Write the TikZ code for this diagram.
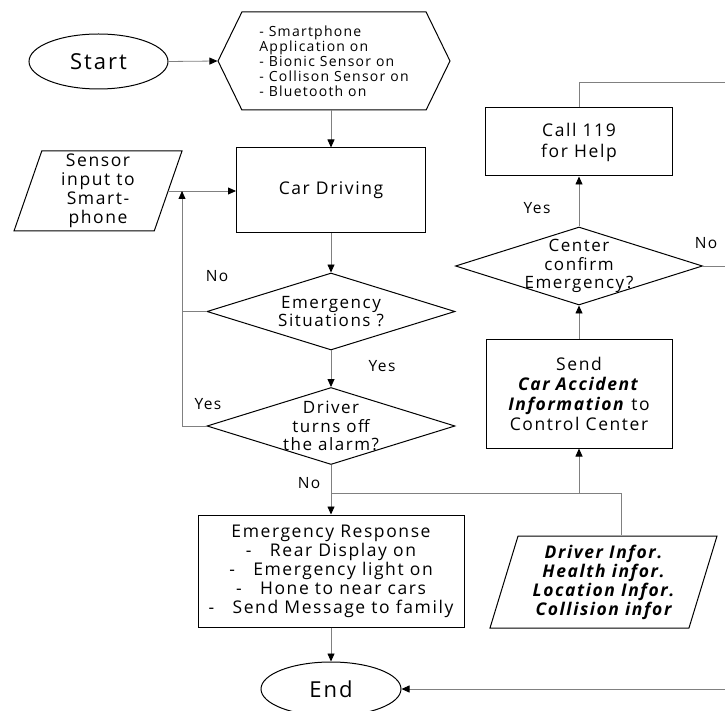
\documentclass[tikz,border=0pt]{standalone}
\usepackage{fontspec}
\setmainfont{Open Sans}[LetterSpace=9]
\usetikzlibrary{shapes.geometric,shapes.symbols,arrows.meta}

\begin{document}
\begin{tikzpicture}
[x=1pt,y=-1pt,
  terminaldecorate/.style={shape=ellipse,draw,line width=1pt,minimum width=139pt,
    minimum height=55pt,inner sep=0pt,font=\fontsize{22}{25}\selectfont},
  processdecorate/.style={shape=rectangle,draw,line width=1pt,align=center,
    inner sep=0pt,font=\fontsize{17.5}{20}\selectfont},
  decisiondecorate/.style={shape=diamond,draw,line width=1pt,aspect=3.2,
    inner xsep=0pt,inner ysep=-8pt,minimum width=248pt,minimum height=77pt,
    align=center,font=\fontsize{17}{18.5}\selectfont},
  iodecorate/.style={shape=trapezium,trapezium left angle=69.4,
    trapezium right angle=110.6,trapezium stretches body,draw,line width=1pt,
    align=center,inner sep=0pt,font=\fontsize{17.5}{19}\selectfont},
  linedecorate/.style={draw=gray,line width=0.8pt},
  arrowdecorate/.style={linedecorate,-{Triangle[color=black,length=8pt,width=7pt]}},
  answerdecorate/.style={inner sep=0pt,font=\fontsize{15.5}{17}\selectfont}]
\useasboundingbox (0,0) rectangle (725,711);
%% nodes or vertices
\node (start) at (98.5,61.5) [terminaldecorate] {Start};
\node (init) at (334,61) [shape=signal,signal to=west and east,
  signal pointer angle=128,draw,line width=1pt,minimum width=232pt,
  minimum height=98pt,inner sep=0pt,align=left,
  font=\fontsize{14}{15}\selectfont]
  {- Smartphone\\Application on\\- Bionic Sensor on\\- Collison Sensor on\\- Bluetooth on};
\node (sensor) at (98,191) [iodecorate,minimum width=168pt,minimum height=80pt]
  {Sensor\\input to\\Smart-\\phone};
\node (drive) at (331,190.5) [processdecorate,minimum width=189pt,minimum height=85pt]
  {Car Driving};
\node (emerg) at (331,311.5) [decisiondecorate] {Emergency\\Situations ?};
\node (alarm) at (331,426) [decisiondecorate] {Driver\\turns off\\the alarm?};
\node (resp) at (331,571) [processdecorate,minimum width=266pt,minimum height=112pt,
  font=\fontsize{17.5}{19}\selectfont]
  {Emergency Response\\- \ \ Rear Display on\\- \ \ Emergency light on\\
   - \ \ Hone to near cars\\- \ \ Send Message to family};
\node (end) at (331,689) [terminaldecorate,minimum width=140pt,minimum height=54pt] {End};
\node (dinfo) at (603.5,582) [iodecorate,minimum width=227pt,minimum height=92pt,
  font=\fontsize{17.5}{19}\selectfont\bfseries\itshape]
  {Driver Infor.\\Health infor.\\Location Infor.\\Collision infor};
\node (send) at (579,393.5) [processdecorate,minimum width=186pt,minimum height=109pt]
  {Send\\\textbf{\textit{Car Accident}}\\\textbf{\textit{Information}} to\\Control Center};
\node (confirm) at (579,266) [decisiondecorate,minimum width=247pt,minimum height=78pt]
  {Center\\confirm\\Emergency?};
\node (call) at (579,142) [processdecorate,minimum width=187pt,minimum height=68pt,
  font=\fontsize{17.5}{21}\selectfont] {Call 119\\for Help};
%% yes / no answers
\foreach \labelname/\x/\y/\labeltext in {
  no1/217/276/No, yes1/382/366/Yes, yes2/208/404/Yes, no2/309/483/No,
  yes3/537/208/Yes, no3/706/243/No}
{
  \node (\labelname) at (\x,\y) [answerdecorate] {\labeltext};
}
%% free ends
\coordinate (loop) at (182,191);
\coordinate (split) at (331,493);
\coordinate (outtop) at (725,82);
\coordinate (outmid) at (725,266);
\coordinate (outbot) at (725,689);
%% edges or lines
\path
\foreach \startnode/\endnode in {drive/emerg, emerg/alarm, alarm/resp, resp/end,
  send/confirm, confirm/call}
{
  (\startnode) edge[arrowdecorate] (\endnode)
};
\draw[arrowdecorate] (start.east) -- (init.west);
\draw[arrowdecorate] (drive.north |- init.south) -- (drive.north);
\draw[arrowdecorate] (sensor.east) -- (sensor.east -| drive.west);
\draw[linedecorate] (emerg.west) -| (loop);
\draw[arrowdecorate] (alarm.west) -| (loop);
\draw[linedecorate] (split) -| ([xshift=17.5pt]dinfo.north);
\draw[arrowdecorate] (send.south |- split) -- (send.south);
\draw[linedecorate] (call.north) |- (outtop);
\draw[linedecorate] (confirm.east) -- (outmid);
\draw[arrowdecorate] (outbot) -- (end.east);
\end{tikzpicture}
\end{document}
